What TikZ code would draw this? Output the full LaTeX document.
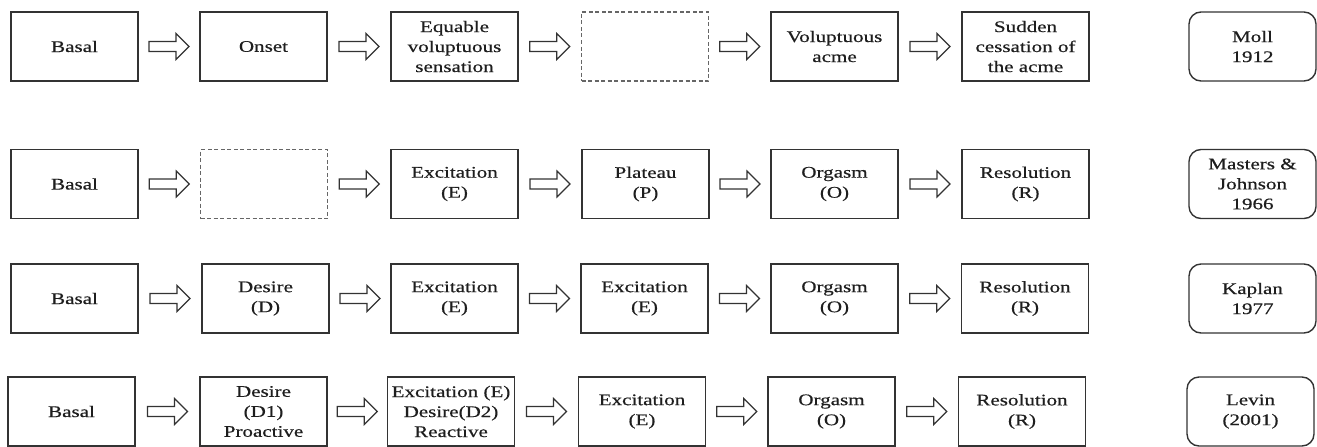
\documentclass[tikz,border=0pt]{standalone}
\usepackage{fontspec}
\setmainfont[FakeStretch=1.3,FakeBold=0.5]{Liberation Serif}
\usetikzlibrary{calc}
\definecolor{ink}{HTML}{1E1E1E}
\definecolor{frame}{HTML}{333333}
\begin{document}
\begin{tikzpicture}[x=1pt,y=1pt,
  every node/.style={font=\fontsize{16.2}{20}\selectfont, text=ink},
  stage/.style={draw=frame, line width=1.4pt, minimum width=127pt, minimum height=69pt,
    inner sep=0pt, align=center},
  blank/.style={stage, draw=gray!80!black, line width=1.2pt, dash pattern=on 4pt off 2.5pt},
  model/.style={stage, rounded corners=12pt},
  blockarrow/.style={draw=frame, line width=1.2pt, line join=miter,
    to path={($(\tikztostart)!.5!(\tikztotarget)+(-20pt,-5pt)$) -- ++(27pt,0) -- ++(0,-8pt)
      -- ++(13pt,13pt) -- ++(-13pt,13pt) -- ++(0,-8pt) -- ++(-27pt,0) -- cycle}}]
\useasboundingbox (0,0) rectangle (1317,-447);

% Moll 1912
\node[stage] (r1a) at (74.5,-46.5) {Basal};
\node[stage] (r1b) at (263.5,-46.5) {Onset};
\node[stage] (r1c) at (454.5,-46.5) {Equable\\voluptuous\\sensation};
\node[blank] (r1d) at (645,-46.5) {};
\node[stage] (r1e) at (834.5,-46.5) {Voluptuous\\acme};
\node[stage] (r1f) at (1025.5,-46.5) {Sudden\\cessation of\\the acme};
\node[model] (r1g) at (1252.5,-46.5) {Moll\\1912};

% Masters & Johnson 1966
\node[stage] (r2a) at (74.5,-184) {Basal};
\node[blank] (r2b) at (264,-184) {};
\node[stage] (r2c) at (454.5,-184) {Excitation\\(E)};
\node[stage] (r2d) at (645.5,-184) {Plateau\\(P)};
\node[stage] (r2e) at (834.5,-184) {Orgasm\\(O)};
\node[stage] (r2f) at (1025.5,-184) {Resolution\\(R)};
\node[model] (r2g) at (1252.5,-184) {Masters \&\\Johnson\\1966};

% Kaplan 1977
\node[stage] (r3a) at (74.5,-298.5) {Basal};
\node[stage] (r3b) at (265.5,-298.5) {Desire\\(D)};
\node[stage] (r3c) at (454.5,-298.5) {Excitation\\(E)};
\node[stage] (r3d) at (644.5,-298.5) {Excitation\\(E)};
\node[stage] (r3e) at (834.5,-298.5) {Orgasm\\(O)};
\node[stage] (r3f) at (1025,-298.5) {Resolution\\(R)};
\node[model] (r3g) at (1252.5,-298.5) {Kaplan\\1977};

% Levin 2001
\node[stage] (r4a) at (71.5,-411.5) {Basal};
\node[stage] (r4b) at (263.5,-411.5) {Desire\\(D1)\\Proactive};
\node[stage] (r4c) at (451,-411.5) {Excitation (E)\\Desire(D2)\\Reactive};
\node[stage] (r4d) at (642,-411.5) {Excitation\\(E)};
\node[stage] (r4e) at (831.5,-411.5) {Orgasm\\(O)};
\node[stage] (r4f) at (1022,-411.5) {Resolution\\(R)};
\node[model] (r4g) at (1250.5,-411.5) {Levin\\(2001)};

% hollow block arrows between successive stages
\foreach \r in {1,2,3,4}{
  \draw[blockarrow] (r\r a.east) to (r\r b.west);
  \draw[blockarrow] (r\r b.east) to (r\r c.west);
  \draw[blockarrow] (r\r c.east) to (r\r d.west);
  \draw[blockarrow] (r\r d.east) to (r\r e.west);
  \draw[blockarrow] (r\r e.east) to (r\r f.west);
}
\end{tikzpicture}
\end{document}
